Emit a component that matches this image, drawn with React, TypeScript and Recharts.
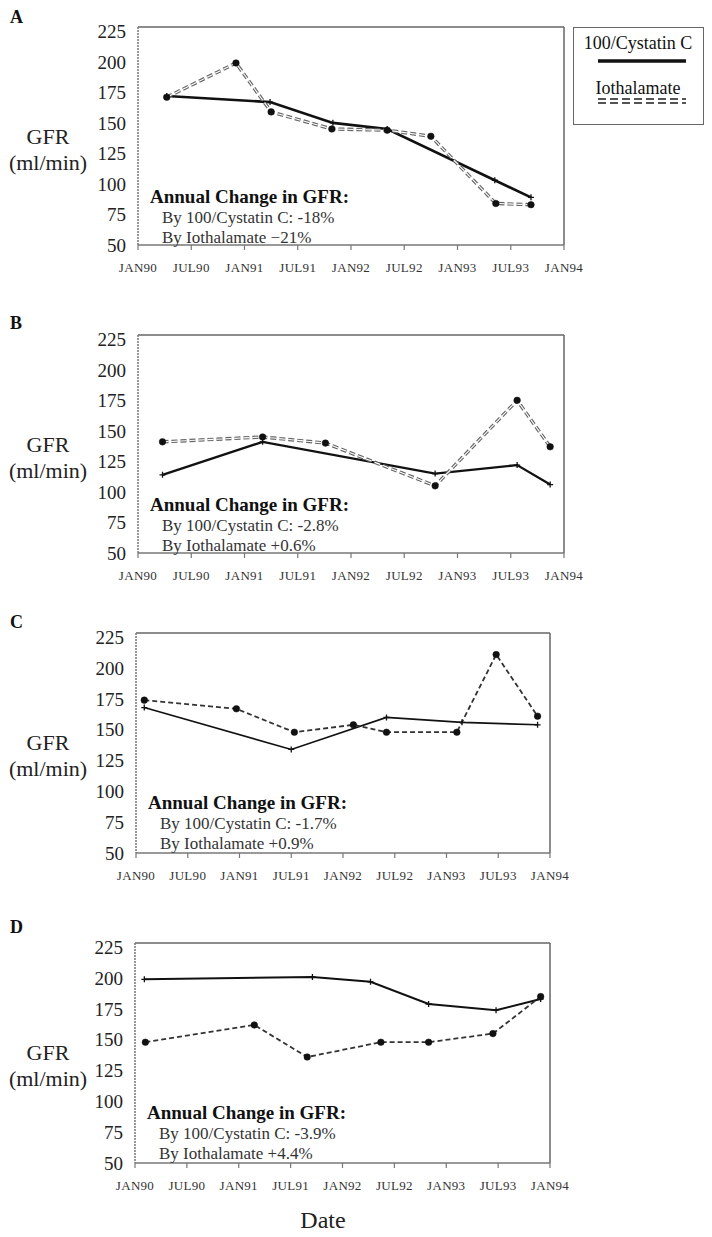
import React from "react";
import { LineChart, Line, XAxis, YAxis, ReferenceLine, Legend } from "recharts";

const serif = "'Liberation Serif', 'Times New Roman', serif";

const xTicks = [1990, 1990.5, 1991, 1991.5, 1992, 1992.5, 1993, 1993.5, 1994];
const xTickLabels = ["JAN90", "JUL90", "JAN91", "JUL91", "JAN92", "JUL92", "JAN93", "JUL93", "JAN94"];
const yTicks = [50, 75, 100, 125, 150, 175, 200, 225];
const yMax = 228.5;

const panelLetters = ["A", "B", "C", "D"];
const seriesNames = ["100/Cystatin C", "Iothalamate"];

// [date as decimal year, GFR in ml/min]
type Pt = [number, number];
const cystatinA: Pt[] = [[1990.27, 172], [1991.24, 167], [1991.83, 150], [1992.34, 145], [1993.35, 103], [1993.69, 89]];
const iothalamateA: Pt[] = [[1990.27, 171], [1990.92, 199], [1991.25, 159], [1991.82, 145], [1992.34, 144], [1992.75, 139], [1993.36, 84], [1993.69, 83]];
const cystatinB: Pt[] = [[1990.23, 114], [1991.17, 141], [1992.79, 115], [1993.56, 122], [1993.87, 106]];
const iothalamateB: Pt[] = [[1990.23, 141], [1991.17, 145], [1991.76, 140], [1992.79, 105], [1993.56, 175], [1993.87, 137]];
const cystatinC: Pt[] = [[1990.08, 168], [1991.5, 134], [1992.42, 160], [1993.15, 156], [1993.88, 154]];
const iothalamateC: Pt[] = [[1990.08, 174], [1990.97, 167], [1991.53, 148], [1992.1, 154], [1992.42, 148], [1993.1, 148], [1993.48, 211], [1993.88, 161]];
const cystatinD: Pt[] = [[1990.09, 199], [1991.71, 201], [1992.27, 197], [1992.83, 179], [1993.48, 174], [1993.91, 183]];
const iothalamateD: Pt[] = [[1990.1, 148], [1991.15, 162], [1991.66, 136], [1992.37, 148], [1992.83, 148], [1993.45, 155], [1993.91, 185]];

const cystatinChange = ["-18%", "-2.8%", "-1.7%", "-3.9%"];
const iothalamateChange = ["\u221221%", "+0.6%", "+0.9%", "+4.4%"];

const toRows = (pts: Pt[]) => pts.map(([date, gfr]) => ({ date, gfr }));

const PlusDot = (props: any) => {
  const { cx, cy, index } = props;
  if (cx == null || cy == null) return null;
  return (
    <path
      key={`plus-${index}`}
      d={`M${cx - 3},${cy}H${cx + 3}M${cx},${cy - 3}V${cy + 3}`}
      stroke="#111"
      strokeWidth={1.3}
      fill="none"
    />
  );
};

const LegendBox = (props: any) => {
  const items = (props.payload || []).filter((p: any) => p.type !== "none");
  return (
    <div
      style={{
        position: "relative",
        width: 131,
        height: 98,
        boxSizing: "border-box",
        border: "1.5px solid #666",
        background: "#fff",
        fontFamily: serif,
        color: "#111",
      }}
    >
      {items.map((item: any, i: number) => {
        const dashed = !!item.payload?.strokeDasharray;
        return (
          <React.Fragment key={item.value}>
            <div
              style={{
                position: "absolute",
                left: 0,
                width: 128,
                top: i === 0 ? 5 : 50,
                textAlign: "center",
                fontSize: 18,
                lineHeight: "20px",
              }}
            >
              {item.value}
            </div>
            <svg
              style={{ position: "absolute", left: 24, top: i === 0 ? 30 : 69 }}
              width={88}
              height={8}
            >
              {dashed ? (
                <>
                  <line x1={0} x2={88} y1={2} y2={2} stroke="#555" strokeWidth={2} strokeDasharray="8 4" />
                  <line x1={0} x2={88} y1={6} y2={6} stroke="#555" strokeWidth={2} strokeDasharray="8 4" />
                </>
              ) : (
                <line x1={0} x2={88} y1={3} y2={3} stroke="#111" strokeWidth={3.5} />
              )}
            </svg>
          </React.Fragment>
        );
      })}
    </div>
  );
};

interface PanelProps {
  idx: number;
  plotTop: number;
  plotLeft: number;
  plotRight: number;
  plotHeight: number;
  letterTop: number;
  cystatin: Pt[];
  iothalamate: Pt[];
  solidWidth: number;
  doubleDash: boolean;
  legend?: boolean;
}

function Panel({
  idx,
  plotTop,
  plotLeft,
  plotRight,
  plotHeight,
  letterTop,
  cystatin,
  iothalamate,
  solidWidth,
  doubleDash,
  legend,
}: PanelProps) {
  const chartTop = plotTop - 10;
  const chartHeight = 10 + plotHeight + 30 + 4;
  const yAxisWidth = 50;
  const cystRows = toRows(cystatin);
  const iothRows = toRows(iothalamate);

  return (
    <>
      <div
        style={{
          position: "absolute",
          left: 10,
          top: letterTop - 11,
          fontSize: 18,
          fontWeight: 700,
          lineHeight: "22px",
          color: "#111",
        }}
      >
        {panelLetters[idx]}
      </div>
      <div
        style={{
          position: "absolute",
          left: 0,
          width: 96,
          top: plotTop + 110 - 13,
          textAlign: "center",
          fontSize: 22,
          lineHeight: "26px",
          color: "#222",
        }}
      >
        GFR
      </div>
      <div
        style={{
          position: "absolute",
          left: 0,
          width: 96,
          top: plotTop + 136 - 13,
          textAlign: "center",
          fontSize: 22,
          lineHeight: "26px",
          color: "#222",
        }}
      >
        (ml/min)
      </div>

      <div style={{ position: "absolute", left: 0, top: chartTop }}>
        <LineChart
          width={712}
          height={chartHeight}
          margin={{ top: 10, right: 712 - plotRight, bottom: 4, left: plotLeft - yAxisWidth }}
        >
          <XAxis
            type="number"
            dataKey="date"
            domain={[1990, 1994]}
            ticks={xTicks}
            interval={0}
            allowDataOverflow
            height={30}
            tickFormatter={(v) => xTickLabels[xTicks.indexOf(v)] ?? ""}
            tick={{ fontSize: 13, fill: "#333", fontFamily: serif, letterSpacing: 0.3 }}
            tickSize={5}
            tickMargin={13}
            axisLine={{ stroke: "#777", strokeWidth: 1.5 }}
            tickLine={{ stroke: "#777", strokeWidth: 1.2 }}
          />
          <YAxis
            type="number"
            domain={[50, yMax]}
            ticks={yTicks}
            interval={0}
            allowDataOverflow
            width={yAxisWidth}
            tick={{ fontSize: 19, fill: "#222", fontFamily: serif }}
            tickLine={false}
            tickSize={6}
            tickMargin={6}
            axisLine={{ stroke: "#777", strokeWidth: 1.5, strokeDasharray: "2 1" }}
          />
          <ReferenceLine y={yMax} stroke="#666" strokeWidth={1.5} />
          <ReferenceLine x={1994} stroke="#666" strokeWidth={1.5} />

          <Line
            data={cystRows}
            dataKey="gfr"
            name={seriesNames[0]}
            stroke="#111"
            strokeWidth={solidWidth}
            dot={PlusDot}
            activeDot={false}
            isAnimationActive={false}
          />
          <Line
            data={iothRows}
            dataKey="gfr"
            name={seriesNames[1]}
            stroke={doubleDash ? "#666" : "#333"}
            strokeWidth={doubleDash ? 3.4 : 1.8}
            strokeDasharray={doubleDash ? "6 3" : "5 3"}
            dot={false}
            activeDot={false}
            isAnimationActive={false}
          />
          {doubleDash && (
            <Line
              data={iothRows}
              dataKey="gfr"
              name="inner"
              legendType="none"
              stroke="#fff"
              strokeWidth={1.1}
              strokeDasharray="6 3"
              dot={false}
              activeDot={false}
              isAnimationActive={false}
            />
          )}
          <Line
            data={iothRows}
            dataKey="gfr"
            name="markers"
            legendType="none"
            stroke="none"
            dot={{ r: 3.3, fill: "#111", stroke: "#111", strokeWidth: 0.5 }}
            activeDot={false}
            isAnimationActive={false}
          />
          {legend && (
            <Legend
              layout="horizontal"
              align="center"
              verticalAlign="middle"
              content={<LegendBox />}
              wrapperStyle={{ position: "absolute", left: 573, top: 10, width: 131, height: 98 }}
            />
          )}
        </LineChart>
      </div>

      <div
        style={{
          position: "absolute",
          left: plotLeft + 12,
          top: plotTop + 170 - 11,
          fontSize: 19,
          fontWeight: 700,
          lineHeight: "22px",
          color: "#111",
          whiteSpace: "nowrap",
        }}
      >
        Annual Change in GFR:
      </div>
      <div
        style={{
          position: "absolute",
          left: plotLeft + 24,
          top: plotTop + 191 - 10,
          fontSize: 17,
          lineHeight: "20px",
          color: "#333",
          whiteSpace: "nowrap",
        }}
      >
        By 100/Cystatin C: {cystatinChange[idx]}
      </div>
      <div
        style={{
          position: "absolute",
          left: plotLeft + 24,
          top: plotTop + 211 - 10,
          fontSize: 17,
          lineHeight: "20px",
          color: "#333",
          whiteSpace: "nowrap",
        }}
      >
        By Iothalamate {iothalamateChange[idx]}
      </div>
    </>
  );
}

export default function App() {
  return (
    <div
      style={{
        position: "absolute",
        left: 0,
        top: 0,
        width: 712,
        height: 1237,
        background: "#fff",
        fontFamily: serif,
        overflow: "hidden",
      }}
    >
      <Panel idx={0} plotTop={27} plotLeft={138} plotRight={564} plotHeight={218} letterTop={17}
        cystatin={cystatinA} iothalamate={iothalamateA} solidWidth={2.6} doubleDash legend />
      <Panel idx={1} plotTop={335} plotLeft={138} plotRight={564} plotHeight={218} letterTop={323}
        cystatin={cystatinB} iothalamate={iothalamateB} solidWidth={2.3} doubleDash />
      <Panel idx={2} plotTop={633} plotLeft={136} plotRight={550} plotHeight={220} letterTop={622}
        cystatin={cystatinC} iothalamate={iothalamateC} solidWidth={1.6} doubleDash={false} />
      <Panel idx={3} plotTop={943} plotLeft={135} plotRight={550} plotHeight={220} letterTop={927}
        cystatin={cystatinD} iothalamate={iothalamateD} solidWidth={2} doubleDash={false} />
      <div
        style={{
          position: "absolute",
          left: 263,
          width: 120,
          top: 1220 - 15,
          textAlign: "center",
          fontSize: 24,
          lineHeight: "30px",
          color: "#222",
        }}
      >
        Date
      </div>
    </div>
  );
}
